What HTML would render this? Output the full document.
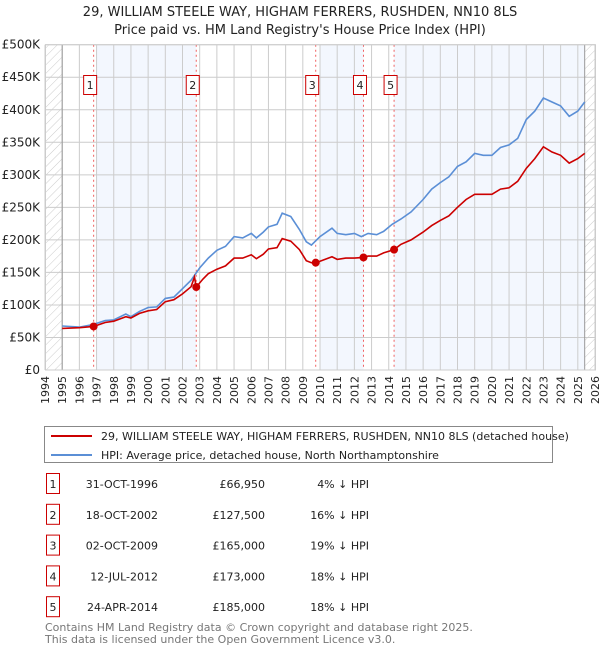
<!DOCTYPE html>
<html><head><meta charset="utf-8"><style>
body{margin:0;background:#fff;font-family:"Liberation Sans","DejaVu Sans",sans-serif;}
svg text{font-family:"DejaVu Sans","Liberation Sans",sans-serif;}
</style></head><body>
<svg id="chart" width="600" height="650" viewBox="0 0 600 650" xmlns="http://www.w3.org/2000/svg">
<defs><pattern id="hatch" patternUnits="userSpaceOnUse" width="6" height="6" patternTransform="rotate(45)"><line x1="0" y1="0" x2="0" y2="6" stroke="#ccc" stroke-width="1"/></pattern></defs>
<text x="300" y="16" text-anchor="middle" font-size="13" fill="#222">29, WILLIAM STEELE WAY, HIGHAM FERRERS, RUSHDEN, NN10 8LS</text>
<text x="300" y="34" text-anchor="middle" font-size="13" fill="#222">Price paid vs. HM Land Registry's House Price Index (HPI)</text>
<g id="bands"></g><g id="grid"></g><g id="axes"></g><g id="series"></g><g id="markers"></g>
<g>
<rect x="44.5" y="426.5" width="508" height="36" fill="#fff" stroke="#888"/>
<line x1="51" y1="436" x2="92" y2="436" stroke="#cc0000" stroke-width="2"/>
<text x="101" y="440" font-size="11" fill="#222">29, WILLIAM STEELE WAY, HIGHAM FERRERS, RUSHDEN, NN10 8LS (detached house)</text>
<line x1="51" y1="455" x2="92" y2="455" stroke="#5b8fd6" stroke-width="2"/>
<text x="101" y="459" font-size="11" fill="#222">HPI: Average price, detached house, North Northamptonshire</text>
</g>
<g id="table"></g>
<text x="45" y="631" font-size="11" fill="#777">Contains HM Land Registry data © Crown copyright and database right 2025.</text>
<text x="45" y="643" font-size="11" fill="#777">This data is licensed under the Open Government Licence v3.0.</text>
</svg>
<script>
const hpiYears=[1995,1996,1996.8,1997.5,1998,1998.7,1999,1999.5,2000,2000.5,2001,2001.5,2002,2002.5,2003,2003.5,2004,2004.5,2005,2005.5,2006,2006.3,2006.7,2007,2007.5,2007.8,2008.3,2008.8,2009.2,2009.5,2010,2010.7,2011,2011.5,2012,2012.4,2012.8,2013.3,2013.7,2014.2,2014.7,2015.3,2016,2016.5,2017,2017.5,2018,2018.5,2019,2019.5,2020,2020.5,2021,2021.5,2022,2022.5,2023,2023.5,2024,2024.5,2025,2025.4];
const hpiValues=[67.7,66,70,76,77,86,82,90,96,97,110,112,125,138,157,172,184,190,205,203,210,203,212,220,224,241,236,216,197,192,205,218,210,208,210,205,210,208,213,224,232,243,262,278,288,297,313,320,333,330,330,342,346,356,385,398,418,412,406,390,398,412];
const ppYears=[1995,1996,1996.83,1997.5,1998,1998.7,1999,1999.5,2000,2000.5,2001,2001.5,2002,2002.5,2002.7,2002.8,2003.2,2003.5,2004,2004.5,2005,2005.5,2006,2006.3,2006.7,2007,2007.5,2007.8,2008.3,2008.8,2009.2,2009.5,2009.75,2010,2010.7,2011,2011.5,2012,2012.53,2012.8,2013.3,2013.7,2014.31,2014.7,2015.3,2016,2016.5,2017,2017.5,2018,2018.5,2019,2019.5,2020,2020.5,2021,2021.5,2022,2022.5,2023,2023.5,2024,2024.5,2025,2025.4];
const ppValues=[64,65,66.95,73,75,82,80,87,91,93,105,108,117,128,143,127.5,140,148,155,160,172,172,177,171,178,186,188,202,198,185,168,165,165,167,174,170,172,172,173,175,175,180,185,193,200,212,222,230,237,250,262,270,270,270,278,280,290,310,325,343,335,330,318,325,333];
const saleYears=[1996.83,2002.8,2009.75,2012.53,2014.31];
const saleValues=[66.95,127.5,165,173,185];
const saleLabels=["1","2","3","4","5"];
const saleDates=["31-OCT-1996","18-OCT-2002","02-OCT-2009","12-JUL-2012","24-APR-2014"];
const salePrices=["£66,950","£127,500","£165,000","£173,000","£185,000"];
const saleHpi=["4% ↓ HPI","16% ↓ HPI","19% ↓ HPI","18% ↓ HPI","18% ↓ HPI"];
const yTicks=[0,50,100,150,200,250,300,350,400,450,500];
const yTickLabels=["£0","£50K","£100K","£150K","£200K","£250K","£300K","£350K","£400K","£450K","£500K"];
const xTicks=[1994,1995,1996,1997,1998,1999,2000,2001,2002,2003,2004,2005,2006,2007,2008,2009,2010,2011,2012,2013,2014,2015,2016,2017,2018,2019,2020,2021,2022,2023,2024,2025,2026];
const bandStarts=[1997.0,2010.0,2014.31];
const bandEnds=[2002.8,2012.53,2025.4];

const X0=45,X1=595,Y0=370,Y1=44.7;
const xs=y=>X0+(y-1994)/(2026-1994)*(X1-X0);
const ys=v=>Y0-v/500*(Y0-Y1);
const NS="http://www.w3.org/2000/svg";
function mk(tag,attrs,parent,text){const e=document.createElementNS(NS,tag);for(const k in attrs)e.setAttribute(k,attrs[k]);if(text!==undefined)e.textContent=text;parent.appendChild(e);return e;}
const bands=document.getElementById('bands'),grid=document.getElementById('grid'),axes=document.getElementById('axes'),series=document.getElementById('series'),markers=document.getElementById('markers'),table=document.getElementById('table');
for(let i=0;i<bandStarts.length;i++){
 const r=mk('rect',{x:xs(bandStarts[i]),y:Y1,width:xs(bandEnds[i])-xs(bandStarts[i]),height:Y0-Y1,fill:'#eef3fd',opacity:0.7},bands);
 
 
}
let h1=mk('rect',{x:X0,y:Y1,width:xs(1995)-X0,height:Y0-Y1,fill:'url(#hatch)'},bands);


let h2=mk('rect',{x:xs(2025.4),y:Y1,width:X1-xs(2025.4),height:Y0-Y1,fill:'url(#hatch)'},bands);


xTicks.forEach(t=>{
 const l=mk('line',{x1:xs(t),x2:xs(t),y1:Y1,y2:Y0,stroke:'#cccccc','stroke-width':1},grid);
 
 
 const tx=mk('text',{x:0,y:0,'font-size':11,fill:'#222','text-anchor':'end',transform:`translate(${xs(t)+4},${Y0+6}) rotate(-90)`},axes,String(t));
 
 
});
yTicks.forEach((t,i)=>{
 const l=mk('line',{x1:X0,x2:X1,y1:ys(t),y2:ys(t),stroke:'#cccccc','stroke-width':1},grid);
 
 
 const tx=mk('text',{x:40,y:ys(t)+4,'font-size':12,fill:'#222','text-anchor':'end'},axes,yTickLabels[i]);
 
 
});
[1995,2025.4].forEach(t=>{const l=mk('line',{x1:xs(t),x2:xs(t),y1:Y1,y2:Y0,stroke:'#999','stroke-width':1},grid);
 
 });
saleYears.forEach((s,i)=>{
 const l=mk('line',{x1:xs(s),x2:xs(s),y1:Y1,y2:Y0,stroke:'#f06060','stroke-width':1,'stroke-dasharray':'2,3'},grid);
 
 
});
const path=(xa,va)=>xa.map((y,i)=>(i?'L':'M')+xs(y).toFixed(1)+','+ys(va[i]).toFixed(1)).join('');
const hp=mk('path',{d:path(hpiYears,hpiValues),fill:'none',stroke:'#5b8fd6','stroke-width':1.6},series);


const pp=mk('path',{d:path(ppYears,ppValues),fill:'none',stroke:'#cc0000','stroke-width':1.6},series);


saleYears.forEach((s,i)=>{
 const c=mk('circle',{cx:xs(s),cy:ys(saleValues[i]),r:4,fill:'#cc0000'},markers);
 
 
 const g=mk('g',{},markers);
 
 
 mk('rect',{x:xs(s)-10,y:75.5,width:13,height:19,fill:'#fff',stroke:'#cc0000'},g);
 mk('text',{x:xs(s)-3.5,y:89,'font-size':11,'text-anchor':'middle',fill:'#222'},g,saleLabels[i]);
 const ry=484+i*30.8;
 const r=mk('g',{},table);
 
 
 mk('rect',{x:46.5,y:ry-10.5,width:13,height:20,fill:'#fff',stroke:'#cc0000'},r);
 mk('text',{x:53,y:ry+4,'font-size':11,'text-anchor':'middle',fill:'#222'},r,saleLabels[i]);
 mk('text',{x:158,y:ry+4,'font-size':11,'text-anchor':'end',fill:'#222'},r,saleDates[i]);
 mk('text',{x:265,y:ry+4,'font-size':11,'text-anchor':'end',fill:'#222'},r,salePrices[i]);
 mk('text',{x:369,y:ry+4,'font-size':11,'text-anchor':'end',fill:'#222'},r,saleHpi[i]);
});
mk('rect',{x:X0+0.5,y:Y1,width:X1-X0,height:Y0-Y1,fill:'none',stroke:'#ccc'},axes);
</script>
</body></html>
